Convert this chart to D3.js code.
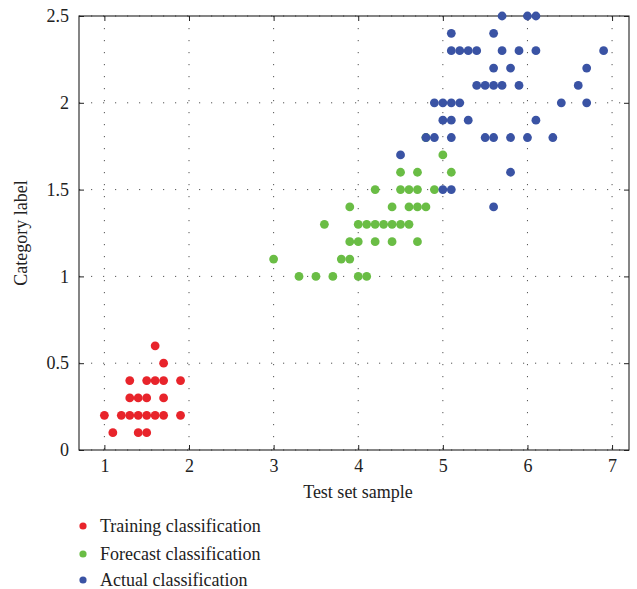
<!DOCTYPE html>
<html>
<head>
<meta charset="utf-8">
<script src="https://cdn.jsdelivr.net/npm/d3@7"></script>
<style>
  body { margin: 0; background: #fff; }
  text { font-family: "Liberation Serif", "DejaVu Serif", serif; fill: #222; }
</style>
</head>
<body>
<div id="chart"></div>
<script>
// petal length / width pairs
const training = [
    [1.0, 0.2], [1.1, 0.1], [1.2, 0.2],
    [1.3, 0.2], [1.3, 0.3], [1.3, 0.4],
    [1.4, 0.1], [1.4, 0.2], [1.4, 0.3],
    [1.5, 0.1], [1.5, 0.2], [1.5, 0.3], [1.5, 0.4],
    [1.6, 0.2], [1.6, 0.4], [1.6, 0.6],
    [1.7, 0.2], [1.7, 0.3], [1.7, 0.4], [1.7, 0.5],
    [1.9, 0.2], [1.9, 0.4]
];

const forecast = [
    [3.3, 1.0], [3.5, 1.0], [3.7, 1.0], [4.0, 1.0], [4.1, 1.0],
    [3.0, 1.1], [3.8, 1.1], [3.9, 1.1],
    [3.9, 1.2], [4.0, 1.2], [4.2, 1.2], [4.4, 1.2], [4.7, 1.2],
    [3.6, 1.3], [4.0, 1.3], [4.1, 1.3], [4.2, 1.3], [4.3, 1.3], [4.4, 1.3], [4.5, 1.3], [4.6, 1.3],
    [3.9, 1.4], [4.4, 1.4], [4.6, 1.4], [4.7, 1.4], [4.8, 1.4],
    [4.2, 1.5], [4.5, 1.5], [4.6, 1.5], [4.7, 1.5], [4.9, 1.5],
    [4.5, 1.6], [4.7, 1.6], [5.1, 1.6],
    [5.0, 1.7], [4.8, 1.8]
];

const actual = [
    [5.6, 1.4], [5.0, 1.5], [5.1, 1.5], [5.8, 1.6], [4.5, 1.7],
    [4.8, 1.8], [4.9, 1.8], [5.1, 1.8], [5.5, 1.8], [5.6, 1.8], [5.8, 1.8], [6.0, 1.8], [6.3, 1.8],
    [5.0, 1.9], [5.1, 1.9], [5.3, 1.9], [6.1, 1.9],
    [4.9, 2.0], [5.0, 2.0], [5.1, 2.0], [5.2, 2.0], [6.4, 2.0], [6.7, 2.0],
    [5.4, 2.1], [5.5, 2.1], [5.6, 2.1], [5.7, 2.1], [5.9, 2.1], [6.6, 2.1],
    [5.6, 2.2], [5.8, 2.2], [6.7, 2.2],
    [5.1, 2.3], [5.2, 2.3], [5.3, 2.3], [5.4, 2.3], [5.7, 2.3], [5.9, 2.3], [6.1, 2.3], [6.9, 2.3],
    [5.1, 2.4], [5.6, 2.4],
    [5.7, 2.5], [6.0, 2.5], [6.1, 2.5]
];

const seriesNames = ["Training classification", "Forecast classification", "Actual classification"];
const colors = ["#e8242b", "#6abd45", "#3a53a4"];
const xTicks = [1, 2, 3, 4, 5, 6, 7];
const yTicks = [0, 0.5, 1, 1.5, 2, 2.5];

const margin = {top: 16, right: 8, bottom: 139, left: 79};
const width = 637 - margin.left - margin.right;
const height = 589 - margin.top - margin.bottom;

const svg = d3.select("#chart").append("svg")
    .attr("width", 637)
    .attr("height", 589);

const g = svg.append("g")
    .attr("transform", "translate(" + margin.left + "," + margin.top + ")");

const x = d3.scaleLinear().domain([0.7, 7.2]).range([0, width]);
const y = d3.scaleLinear().domain([0, 2.5]).range([height, 0]);

// dotted grid
g.append("g").selectAll("line.vg")
    .data(xTicks)
    .join("line")
    .attr("x1", d => x(d)).attr("x2", d => x(d))
    .attr("y1", 0).attr("y2", height)
    .attr("stroke", "#555")
    .attr("stroke-dasharray", "1.2,10.8");

g.append("g").selectAll("line.hg")
    .data(yTicks)
    .join("line")
    .attr("x1", 0).attr("x2", width)
    .attr("y1", d => y(d)).attr("y2", d => y(d))
    .attr("stroke", "#555")
    .attr("stroke-dasharray", "1.2,10.8");

// axes, ticks pointing inside on all four sides
const fmt = d3.format("~g");

g.append("g")
    .attr("transform", "translate(0," + height + ")")
    .call(d3.axisBottom(x).tickValues(xTicks).tickSize(-5).tickPadding(9).tickFormat(fmt));

g.append("g")
    .call(d3.axisLeft(y).tickValues(yTicks).tickSize(-5).tickPadding(10).tickFormat(fmt));

g.append("g")
    .call(d3.axisTop(x).tickValues(xTicks).tickSize(-5).tickFormat(""));

g.append("g")
    .attr("transform", "translate(" + width + ",0)")
    .call(d3.axisRight(y).tickValues(yTicks).tickSize(-5).tickFormat(""));

g.selectAll(".domain").remove();
g.selectAll(".tick line").attr("stroke", "#222");
g.selectAll(".tick text")
    .style("font-family", "Liberation Serif, DejaVu Serif, serif")
    .style("font-size", "18px")
    .attr("fill", "#222");

g.append("rect")
    .attr("width", width)
    .attr("height", height)
    .attr("fill", "none")
    .attr("stroke", "#222")
    .attr("stroke-width", 1.1);

// points
[training, forecast, actual].forEach(function (data, i) {
    g.append("g").selectAll("circle")
        .data(data)
        .join("circle")
        .attr("cx", d => x(d[0]))
        .attr("cy", d => y(d[1]))
        .attr("r", 4.4)
        .attr("fill", colors[i]);
});

// axis labels
g.append("text")
    .attr("text-anchor", "middle")
    .attr("x", width / 2 + 4)
    .attr("y", height + 48)
    .style("font-size", "18px")
    .text("Test set sample");

g.append("text")
    .attr("text-anchor", "middle")
    .attr("transform", "translate(-52," + (height / 2) + ") rotate(-90)")
    .style("font-size", "18px")
    .text("Category label");

// legend
const legend = svg.append("g")
    .attr("transform", "translate(83,526)");

seriesNames.forEach(function (name, i) {
    const row = legend.append("g")
        .attr("transform", "translate(0," + [0, 28, 54][i] + ")");
    row.append("circle")
        .attr("r", 3.6)
        .attr("fill", colors[i]);
    row.append("text")
        .attr("x", 17)
        .attr("dy", "0.33em")
        .style("font-size", "18px")
        .text(name);
});
</script>
</body>
</html>
